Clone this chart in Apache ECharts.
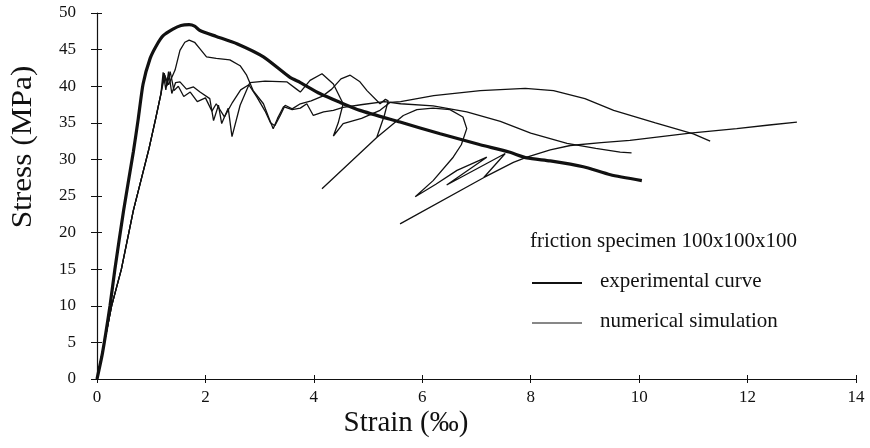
<!DOCTYPE html>
<html>
<head>
<meta charset="utf-8">
<script src="https://cdn.jsdelivr.net/npm/echarts@6/dist/echarts.min.js"></script>
<style>
html,body{margin:0;padding:0;background:#fff;}
#chart{width:870px;height:448px;}
</style>
</head>
<body>
<div id="chart"></div>
<script>
// ---- data (strain in ‰, stress in MPa) ----
const experimental = [[0,0],[0.1,3.5],[0.24,10],[0.33,15],[0.49,23],[0.67,31],[0.76,35.5],[0.85,40.3],[0.98,43.8],[1.1,45.6],[1.22,46.9],[1.4,47.8],[1.55,48.3],[1.7,48.4],[1.8,48.2],[1.9,47.6],[2.2,46.8],[2.58,45.8],[3.07,44.0],[3.56,41.2],[3.75,40.5],[4.11,39.0],[4.48,37.8],[4.85,36.7],[5.59,35.1],[6.33,33.5],[7.07,32.0],[7.6,31.0],[7.93,30.2],[8.36,29.8],[8.97,29.0],[9.47,27.9],[10.05,27.1]];

const numerical1 = [[0,0],[0.27,10],[0.45,15],[0.67,23],[0.96,31.5],[1.08,35.5],[1.18,39],[1.25,41.5],[1.32,40.2],[1.44,42.2],[1.53,44.9],[1.62,46.0],[1.7,46.3],[1.8,46.0],[1.9,45.1],[2.02,44.0],[2.2,43.8],[2.45,43.6],[2.64,42.8],[2.76,41.5],[2.88,39.4],[3.07,37.6],[3.18,35.5],[3.25,34.2],[3.33,35.6],[3.44,37.2],[3.6,36.8],[3.75,37.0],[3.87,37.6],[3.99,36.0],[4.18,36.5],[4.36,36.7],[4.54,37.1],[4.9,37.5],[5.3,37.9],[5.6,37.6],[6.2,37.3],[6.82,36.5],[7.44,35.2],[8.0,33.6],[8.67,32.2],[9.2,31.5],[9.65,31.0],[9.86,30.9]];

const numerical2 = [[0,0],[0.27,10],[0.45,15],[0.67,23],[0.96,31.5],[1.08,35.5],[1.18,39],[1.22,41.9],[1.27,39.5],[1.32,42.0],[1.38,39.0],[1.45,40.5],[1.53,40.6],[1.65,39.6],[1.78,39.9],[1.9,39.2],[2.08,38.3],[2.15,35.3],[2.24,37.4],[2.3,34.9],[2.42,37.0],[2.49,33.1],[2.64,37.4],[2.82,40.5],[3.1,40.7],[3.5,40.6],[3.68,39.6],[3.75,39.2],[3.93,40.8],[4.15,41.7],[4.36,40.3],[4.54,37.6],[4.45,35.0],[4.36,33.2],[4.54,34.9],[4.88,35.6],[5.22,36.7],[5.41,37.8],[5.6,37.9],[6.21,38.7],[7.07,39.4],[7.9,39.7],[8.42,39.4],[9.0,38.3],[9.53,36.7],[10.3,35.0],[11.0,33.5],[11.31,32.5]];

const numerical3 = [[0,0],[0.27,10],[0.45,15],[0.67,23],[0.96,31.5],[1.08,35.5],[1.18,39],[1.24,41.8],[1.29,40.0],[1.35,42.0],[1.42,39.4],[1.5,40.0],[1.6,38.6],[1.72,39.2],[1.85,37.9],[2.0,38.4],[2.12,36.6],[2.2,37.6],[2.35,35.8],[2.5,37.8],[2.65,39.5],[2.8,40.2],[2.95,38.5],[3.1,36.6],[3.2,35.0],[3.28,34.6],[3.38,36.0],[3.47,37.4],[3.6,36.9],[3.75,37.6],[3.95,38.0],[4.15,38.6],[4.33,39.6],[4.5,41.0],[4.67,41.5],[4.85,40.6],[4.98,39.4],[5.22,37.6],[5.32,38.2],[5.37,38.0],[5.3,36.0],[5.16,33.0],[4.15,26.0],[5.16,33.0],[5.65,36.0],[5.9,36.8],[6.2,37.0],[6.51,36.8],[6.75,35.8],[6.82,34.2],[6.72,32.0],[6.57,30.3],[6.2,27.1],[5.87,24.9],[6.25,26.6],[6.64,28.5],[7.19,30.3],[6.45,26.5],[7.53,30.8],[7.13,27.5],[5.59,21.2],[7.13,27.5],[7.68,29.6],[7.93,30.3],[8.36,31.3],[8.73,31.9],[9.3,32.3],[9.83,32.6],[10.94,33.6],[11.8,34.2],[12.4,34.7],[12.91,35.1]];

const strainTicks = [0,2,4,6,8,10,12,14];
const stressTicks = [0,5,10,15,20,25,30,35,40,45,50];

const legendTitle = 'friction specimen 100x100x100';
const legendExp = 'experimental curve';
const legendNum = 'numerical simulation';
const xTitle = 'Strain (‰)';
const yTitle = 'Stress (MPa)';

// ---- chart ----
const FONT = '"Liberation Serif","Times New Roman",serif';
const INK = '#111';
const chart = echarts.init(document.getElementById('chart'), null, {renderer:'canvas'});

const xBase = {
  type:'value', min: strainTicks[0], max: strainTicks[strainTicks.length-1],
  interval: strainTicks[1]-strainTicks[0], position:'bottom', splitLine:{show:false}
};
const yBase = {
  type:'value', min: stressTicks[0], max: stressTicks[stressTicks.length-1],
  interval: stressTicks[1]-stressTicks[0], position:'left', splitLine:{show:false}
};

const numStyle = {type:'line', showSymbol:false, symbol:'none', smooth:false,
  lineStyle:{color:INK, width:1.3}, itemStyle:{color:INK}, z:3, animation:false};

chart.setOption({
  backgroundColor:'#fff',
  animation:false,
  grid:{left:97, right:14, top:13, bottom:69, containLabel:false},
  xAxis:[
    Object.assign({}, xBase, {
      axisLine:{show:true, lineStyle:{color:INK, width:1.2}},
      axisTick:{show:true, inside:false, length:4, lineStyle:{color:INK, width:1}},
      axisLabel:{show:true, margin:10, color:INK, fontFamily:FONT, fontSize:17}
    }),
    Object.assign({}, xBase, {
      axisLine:{show:false},
      axisTick:{show:true, inside:true, length:4, lineStyle:{color:INK, width:1}},
      axisLabel:{show:false}
    })
  ],
  yAxis:[
    Object.assign({}, yBase, {
      axisLine:{show:true, lineStyle:{color:INK, width:1.2}},
      axisTick:{show:true, inside:false, length:6, lineStyle:{color:INK, width:1}},
      axisLabel:{show:true, margin:21, color:INK, fontFamily:FONT, fontSize:17}
    }),
    Object.assign({}, yBase, {
      axisLine:{show:false},
      axisTick:{show:true, inside:true, length:5, lineStyle:{color:INK, width:1}},
      axisLabel:{show:false}
    })
  ],
  series:[
    Object.assign({}, numStyle, {name:legendNum, data:numerical1}),
    Object.assign({}, numStyle, {name:legendNum, data:numerical2}),
    Object.assign({}, numStyle, {name:legendNum, data:numerical3}),
    {type:'line', name:legendExp, data:experimental, showSymbol:false, symbol:'none',
     smooth:0.2, lineStyle:{color:INK, width:3.2}, itemStyle:{color:INK}, z:4, animation:false}
  ],
  graphic:[
    {type:'text', x:406, y:423, z:10,
     style:{text:xTitle, font:'29px '+FONT, fill:INK, textAlign:'center', textVerticalAlign:'middle'}},
    {type:'text', x:23, y:147, rotation:Math.PI/2, scaleX:1.08, z:10,
     style:{text:yTitle, font:'29px '+FONT, fill:INK, textAlign:'center', textVerticalAlign:'middle'}},
    {type:'text', x:530, y:241, z:10,
     style:{text:legendTitle, font:'21px '+FONT, fill:INK, textAlign:'left', textVerticalAlign:'middle'}},
    {type:'line', z:10, shape:{x1:532, y1:283, x2:582, y2:283}, style:{stroke:INK, lineWidth:2.2}},
    {type:'text', x:600, y:281, z:10,
     style:{text:legendExp, font:'21px '+FONT, fill:INK, textAlign:'left', textVerticalAlign:'middle'}},
    {type:'line', z:10, shape:{x1:532, y1:323, x2:582, y2:323}, style:{stroke:INK, lineWidth:1}},
    {type:'text', x:600, y:321, z:10,
     style:{text:legendNum, font:'21px '+FONT, fill:INK, textAlign:'left', textVerticalAlign:'middle'}}
  ]
});
</script>
</body>
</html>
